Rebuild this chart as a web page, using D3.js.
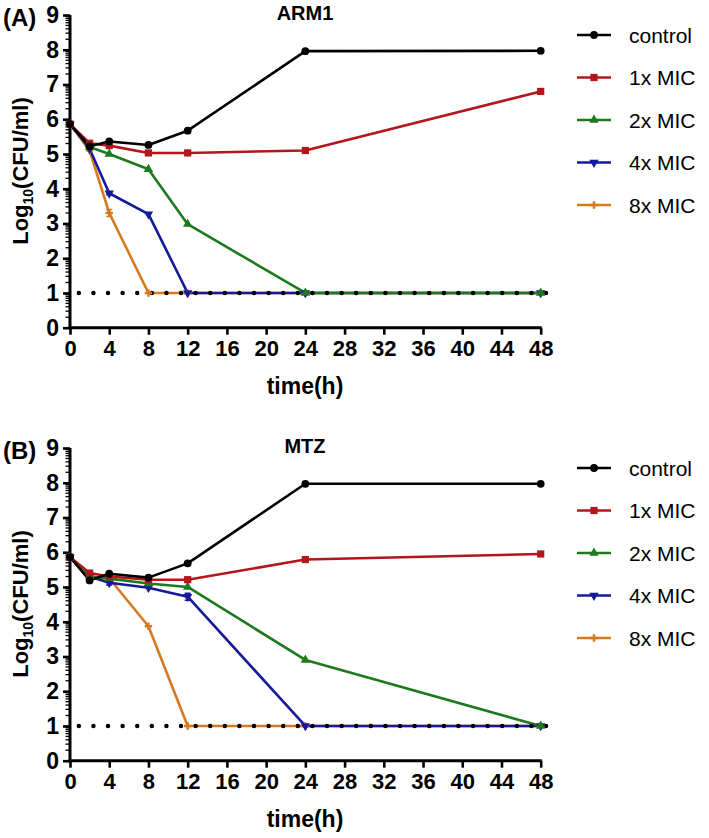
<!DOCTYPE html>
<html><head><meta charset="utf-8">
<script src="https://cdn.jsdelivr.net/npm/d3@7"></script>
<style>body{margin:0;background:#fff}svg{display:block}</style>
</head><body>
<svg id="c" width="709" height="838"></svg>
<script>
const times = [0, 2, 4, 8, 12, 24, 48];
const seriesNames = ["control", "1x MIC", "2x MIC", "4x MIC", "8x MIC"];
const colors = ["#000000", "#b3161b", "#1c7a1c", "#141a9a", "#d8791f"];
const xTicks = [0,4,8,12,16,20,24,28,32,36,40,44,48];
const yTicks = [0,1,2,3,4,5,6,7,8,9];

// Panel A: ARM1
const armControl = [5.86, 5.22, 5.36, 5.26, 5.67, 7.96, 7.97];
const arm1x      = [5.86, 5.31, 5.24, 5.03, 5.03, 5.10, 6.80];
const arm2x      = [5.86, 5.20, 5.00, 4.56, 2.98, 1.00, 1.00];
const arm4x      = [5.86, 5.15, 3.87, 3.27, 1.00, 1.00, 1.00];
const arm8x      = [5.86, 5.10, 3.30, 1.00, 1.00, 1.00, 1.00];
// Panel B: MTZ
const mtzControl = [5.86, 5.19, 5.38, 5.27, 5.68, 7.97, 7.97];
const mtz1x      = [5.86, 5.40, 5.30, 5.21, 5.21, 5.79, 5.95];
const mtz2x      = [5.86, 5.30, 5.24, 5.10, 5.00, 2.90, 1.00];
const mtz4x      = [5.86, 5.30, 5.12, 4.98, 4.72, 1.00, 1.00];
const mtz8x      = [5.86, 5.30, 5.25, 3.87, 1.00, 1.00, 1.00];
// small error bars [series index, time index, sd]
const armErrors = [[4, 2, 0.1], [3, 2, 0.04], [1, 1, 0.05]];
const mtzErrors = [[3, 4, 0.1], [2, 1, 0.06], [3, 2, 0.06]];
const detectionLimit = 1;

const svg = d3.select("#c");
const font = "'Liberation Sans', Arial, sans-serif";

function marker(sel, i) {
  const types = [d3.symbolCircle, d3.symbolSquare, d3.symbolTriangle, d3.symbolTriangle, d3.symbolCross];
  const sizes = [48, 52, 38, 38, 30];
  sel.attr("d", d3.symbol().type(types[i]).size(sizes[i])())
     .attr("fill", colors[i]);
}

function panel(offY, data, errs, title, letter) {
  const g = svg.append("g").attr("transform", `translate(0,${offY})`);
  const x = d3.scaleLinear().domain([0, 48]).range([70, 540.7]);
  const y = d3.scaleLinear().domain([0, 9]).range([327.7, 15]);

  // minor log ticks
  const minor = [];
  for (let i = 0; i < 9; i++) for (let k = 2; k <= 9; k++) minor.push(i + Math.log10(k));
  g.append("g").selectAll("line").data(minor).join("line")
    .attr("x1", x(0) - 4.5).attr("x2", x(0)).attr("y1", d => y(d)).attr("y2", d => y(d))
    .attr("stroke", "#000").attr("stroke-width", 1.3);

  const ya = g.append("g").attr("transform", `translate(${x(0)},0)`)
    .call(d3.axisLeft(y).tickValues(yTicks).tickSize(7).tickPadding(4).tickFormat(d3.format("d")));
  ya.select(".domain").attr("stroke-width", 3).attr("d", `M0,${y(9)}V${y(0)+1.5}`);
  ya.selectAll(".tick line").attr("stroke-width", 2.6);
  ya.selectAll("text").attr("font-family", font).attr("font-weight", "bold").attr("font-size", 23).attr("fill", "#000");

  const xa = g.append("g").attr("transform", `translate(0,${y(0)})`)
    .call(d3.axisBottom(x).tickValues(xTicks).tickSize(7).tickPadding(6));
  xa.select(".domain").attr("stroke-width", 3).attr("d", `M${x(0)-1.5},0H${x(48)+1}`);
  xa.selectAll(".tick line").attr("stroke-width", 2.6);
  xa.selectAll("text").attr("font-family", font).attr("font-weight", "bold").attr("font-size", 22).attr("fill", "#000");

  const line = d3.line().x((d, j) => x(times[j])).y(d => y(d));
  for (let i = data.length - 1; i >= 0; i--) {
    g.append("path").attr("d", line(data[i])).attr("fill", "none")
      .attr("stroke", colors[i]).attr("stroke-width", 2.6).attr("stroke-linejoin", "round");
  }

  // detection limit dotted line (on top of lines)
  g.append("line").attr("x1", x(0.9)).attr("x2", x(48.6))
    .attr("y1", y(detectionLimit)).attr("y2", y(detectionLimit))
    .attr("stroke", "#000").attr("stroke-width", 4.5).attr("stroke-linecap", "round")
    .attr("stroke-dasharray", "0,14.6");

  errs.forEach(([s, t, sd]) => {
    const cx = x(times[t]), v = data[s][t];
    g.append("path").attr("d", `M${cx},${y(v+sd)}V${y(v-sd)}M${cx-3},${y(v+sd)}h6M${cx-3},${y(v-sd)}h6`)
      .attr("stroke", colors[s]).attr("stroke-width", 1.5).attr("fill", "none");
  });
  for (let i = data.length - 1; i >= 0; i--) {
    g.append("g").selectAll("path").data(data[i]).join("path")
      .attr("transform", (d, j) => `translate(${x(times[j])},${y(d)})${i === 3 ? " rotate(180)" : ""}`)
      .call(marker, i);
  }

  // title & letter
  g.append("text").attr("x", 305).attr("y", 20).attr("text-anchor", "middle")
    .attr("font-family", font).attr("font-weight", "bold").attr("font-size", 20).text(title);
  g.append("text").attr("x", 3).attr("y", 26)
    .attr("font-family", font).attr("font-weight", "bold").attr("font-size", 24).text(letter);

  // axis labels
  const yl = g.append("text").attr("transform", `translate(28,171) rotate(-90)`).attr("text-anchor", "middle")
    .attr("font-family", font).attr("font-weight", "bold").attr("font-size", 22);
  yl.append("tspan").text("Log");
  yl.append("tspan").attr("font-size", 14).attr("dy", 5).text("10");
  yl.append("tspan").attr("dy", -5).text("(CFU/ml)");
  g.append("text").attr("x", 305).attr("y", 394).attr("text-anchor", "middle")
    .attr("font-family", font).attr("font-weight", "bold").attr("font-size", 23).text("time(h)");

  // legend
  seriesNames.forEach((name, i) => {
    const ly = 35 + i * 42.5;
    g.append("line").attr("x1", 577).attr("x2", 611).attr("y1", ly).attr("y2", ly)
      .attr("stroke", colors[i]).attr("stroke-width", 2.6);
    g.append("path").attr("transform", `translate(594,${ly})${i === 3 ? " rotate(180)" : ""}`).call(marker, i);
    g.append("text").attr("x", 629).attr("y", ly + 7.5).attr("font-family", font)
      .attr("font-size", 21).attr("fill", "#000").text(name);
  });
}

panel(0, [armControl, arm1x, arm2x, arm4x, arm8x], armErrors, "ARM1", "(A)");
panel(433, [mtzControl, mtz1x, mtz2x, mtz4x, mtz8x], mtzErrors, "MTZ", "(B)");
</script>
</body></html>
